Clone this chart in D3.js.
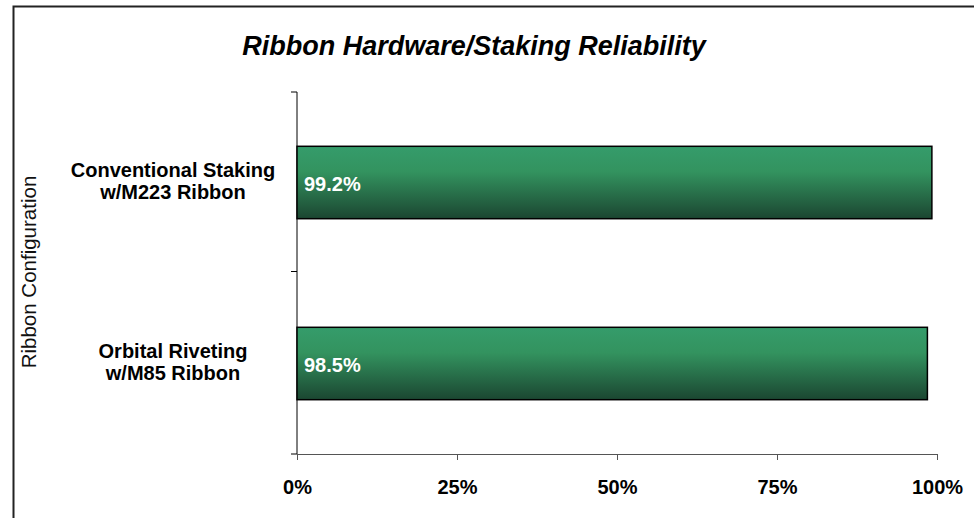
<!DOCTYPE html>
<html><head><meta charset="utf-8">
<script src="https://cdn.jsdelivr.net/npm/d3@7"></script>
<style>body{margin:0;background:#fff}svg{display:block}</style>
</head><body>
<svg id="c" width="974" height="518"></svg>
<script>
const categories = [["Conventional Staking","w/M223 Ribbon"],["Orbital Riveting","w/M85 Ribbon"]];
const values = [99.2, 98.5];
const valueLabels = ["99.2%", "98.5%"];
const ticks = [0, 25, 50, 75, 100];
const tickLabels = ["0%","25%","50%","75%","100%"];
const title = "Ribbon Hardware/Staking Reliability";
const yTitle = "Ribbon Configuration";

const svg = d3.select("#c");
const font = "'Liberation Sans', Arial, sans-serif";

// chart border (right/bottom out of frame)
svg.append("path").attr("d","M13.5,518 V6.5 H974").attr("fill","none").attr("stroke","#222").attr("stroke-width",2);

const x = d3.scaleLinear().domain([0,100]).range([297,937]);
const y = d3.scaleBand().domain(d3.range(categories.length)).range([92,454]).paddingInner(0.6).paddingOuter(0.3);

const defs = svg.append("defs");
const g = defs.append("linearGradient").attr("id","gr").attr("x1",0).attr("y1",0).attr("x2",0).attr("y2",1);
g.append("stop").attr("offset","0%").attr("stop-color","#359c6b");
g.append("stop").attr("offset","35%").attr("stop-color","#33935f");
g.append("stop").attr("offset","100%").attr("stop-color","#1b4631");

// title
svg.append("text").attr("x",474).attr("y",55).attr("text-anchor","middle")
  .style("font-family",font).style("font-weight","bold").style("font-style","italic").style("font-size","27px")
  .text(title);

// y axis title
svg.append("text").attr("transform","translate(36,272) rotate(-90)").attr("text-anchor","middle")
  .style("font-family",font).style("font-size","20.5px").attr("fill","#111").text(yTitle);

// axes
const yTicks = [92, 271.5, 454];
svg.append("line").attr("x1",297).attr("x2",297).attr("y1",92).attr("y2",454).attr("stroke","#000").attr("stroke-width",1);
yTicks.forEach(t=>svg.append("line").attr("x1",291).attr("x2",297).attr("y1",t).attr("y2",t).attr("stroke","#000"));

const xAxis = d3.axisBottom(x).tickValues(ticks).tickSize(6).tickSizeOuter(0).tickFormat((d,i)=>tickLabels[i]);
const xg = svg.append("g").attr("transform","translate(0,454)").call(xAxis);
xg.select(".domain").attr("stroke","#555");
xg.selectAll(".tick line").attr("stroke","#555");
xg.selectAll("text").attr("dy",0).attr("y",40).attr("fill","#000")
  .style("font-family",font).style("font-weight","bold").style("font-size","20px");

// bars
const bars = svg.append("g");
values.forEach((v,i)=>{
  bars.append("rect").attr("x",x(0)).attr("y",y(i)).attr("width",x(v)-x(0)).attr("height",y.bandwidth())
    .attr("fill","url(#gr)").attr("stroke","#000").attr("stroke-width",1.5);
  bars.append("text").attr("x",x(0)+7).attr("y",y(i)+y.bandwidth()/2+8.5)
    .attr("fill","#fff").style("font-family",font).style("font-weight","bold").style("font-size","20px")
    .text(valueLabels[i]);
  const t = svg.append("text").attr("text-anchor","middle").style("font-family",font).style("font-weight","bold").style("font-size","20px");
  categories[i].forEach((line,k)=>{
    t.append("tspan").attr("x",173).attr("y",y(i)+y.bandwidth()/2 - 5.5 + k*22).text(line);
  });
});
</script>
</body></html>
